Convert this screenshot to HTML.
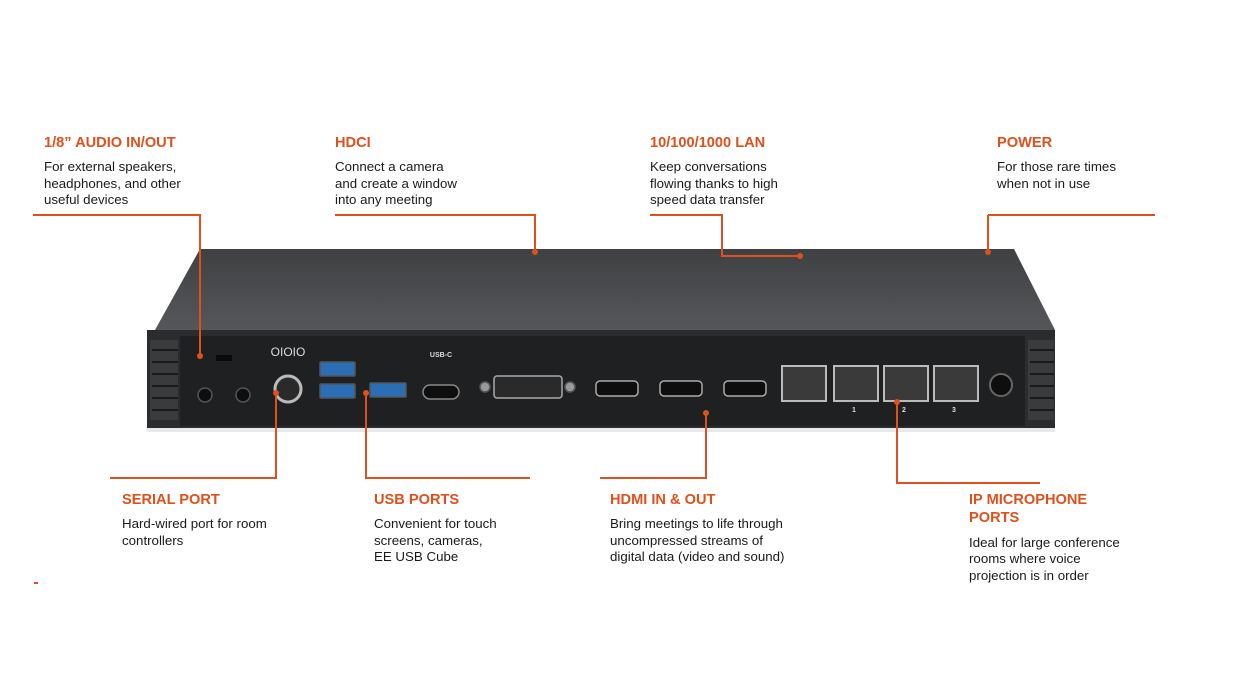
<!DOCTYPE html>
<html><head><meta charset="utf-8"><style>
html,body{margin:0;padding:0;background:#fff;}
svg{display:block;font-family:"Liberation Sans",Arial,sans-serif;}
.t{fill:#e0501c;font-weight:bold;font-size:14.6px;}
.b{fill:#1a1a1a;font-size:13.3px;}
.l{stroke:#e0501c;stroke-width:2;fill:none;}
.d{fill:#e0501c;}
</style></head><body>
<svg width="1243" height="700" viewBox="0 0 1243 700">
<defs>
<linearGradient id="top" x1="0" y1="0" x2="0" y2="1"><stop offset="0" stop-color="#3f4042"/><stop offset="1" stop-color="#55575a"/></linearGradient>
</defs>
<polygon points="200,249 1014,249 1055,330 155,330" fill="url(#top)"/>
<rect x="147" y="330" width="908" height="100" fill="#2b2c2e"/>
<rect x="180" y="336" width="845" height="90" fill="#1f2022"/>
<rect x="147" y="428" width="908" height="4" fill="#e9e9e9"/>
<g fill="#3a3b3d"><rect x="150" y="340" width="28" height="80"/><rect x="1028" y="340" width="26" height="80"/></g>
<g stroke="#1a1a1a" stroke-width="2">
<line x1="152" y1="350" x2="178" y2="350"/><line x1="152" y1="362" x2="178" y2="362"/><line x1="152" y1="374" x2="178" y2="374"/><line x1="152" y1="386" x2="178" y2="386"/><line x1="152" y1="398" x2="178" y2="398"/><line x1="152" y1="410" x2="178" y2="410"/>
<line x1="1030" y1="350" x2="1054" y2="350"/><line x1="1030" y1="362" x2="1054" y2="362"/><line x1="1030" y1="374" x2="1054" y2="374"/><line x1="1030" y1="386" x2="1054" y2="386"/><line x1="1030" y1="398" x2="1054" y2="398"/><line x1="1030" y1="410" x2="1054" y2="410"/>
</g>
<g fill="#0e0e0e" stroke="#555" stroke-width="1.5">
<circle cx="205" cy="395" r="7"/><circle cx="243" cy="395" r="7"/>
<circle cx="288" cy="389" r="13" fill="#2a2a2a" stroke="#bbb" stroke-width="3"/>
<rect x="320" y="362" width="35" height="14" rx="1" fill="#2a6fb5"/>
<rect x="320" y="384" width="35" height="14" rx="1" fill="#2a6fb5"/>
<rect x="370" y="383" width="36" height="14" rx="1" fill="#2a6fb5"/>
<rect x="423" y="385" width="36" height="14" rx="7" stroke="#888"/>
<rect x="494" y="376" width="68" height="22" rx="3" fill="#2a2a2a" stroke="#aaa"/>
<circle cx="485" cy="387" r="5" fill="#999"/><circle cx="570" cy="387" r="5" fill="#999"/>
<rect x="596" y="381" width="42" height="15" rx="4" stroke="#aaa"/>
<rect x="660" y="381" width="42" height="15" rx="4" stroke="#aaa"/>
<rect x="724" y="381" width="42" height="15" rx="4" stroke="#aaa"/>
<rect x="782" y="366" width="44" height="35" fill="#3a3a3a" stroke="#bbb" stroke-width="2"/>
<rect x="834" y="366" width="44" height="35" fill="#3a3a3a" stroke="#bbb" stroke-width="2"/>
<rect x="884" y="366" width="44" height="35" fill="#3a3a3a" stroke="#bbb" stroke-width="2"/>
<rect x="934" y="366" width="44" height="35" fill="#3a3a3a" stroke="#bbb" stroke-width="2"/>
<circle cx="1001" cy="385" r="11" stroke="#666" stroke-width="2"/>
</g>
<rect x="216" y="355" width="16" height="6" fill="#0a0a0a"/>
<g fill="#ddd" font-size="9" font-weight="bold" text-anchor="middle">
<text x="288" y="356" font-size="12" font-weight="normal">OIOIO</text>
<text x="441" y="357" font-size="7">USB-C</text>
<text x="854" y="412" font-size="7">1</text><text x="904" y="412" font-size="7">2</text><text x="954" y="412" font-size="7">3</text>
</g>
<polyline class="l" points="33,215 200,215 200,355"/>
<polyline class="l" points="335,215 535,215 535,252"/>
<polyline class="l" points="650,215 722,215 722,256 800,256"/>
<polyline class="l" points="988,215 1155,215"/><polyline class="l" points="988,215 988,252"/>
<polyline class="l" points="276,393 276,478 110,478"/>
<polyline class="l" points="366,393 366,478 530,478"/>
<polyline class="l" points="706,413 706,478 600,478"/>
<polyline class="l" points="897,402 897,483 1040,483"/>
<g class="d"><circle cx="200" cy="356" r="3"/><circle cx="535" cy="252" r="3"/><circle cx="800" cy="256" r="3"/><circle cx="988" cy="252" r="3"/><circle cx="276" cy="393" r="3"/><circle cx="366" cy="393" r="3"/><circle cx="706" cy="413" r="3"/><circle cx="897" cy="402" r="3"/></g>
<rect x="34" y="582" width="4" height="2" fill="#e0501c"/>
<text class="t" x="44" y="147">1/8” AUDIO IN/OUT</text>
<text class="b" x="44" y="171">For external speakers,</text><text class="b" x="44" y="188">headphones, and other</text><text class="b" x="44" y="204">useful devices</text>
<text class="t" x="335" y="147">HDCI</text>
<text class="b" x="335" y="171">Connect a camera</text><text class="b" x="335" y="188">and create a window</text><text class="b" x="335" y="204">into any meeting</text>
<text class="t" x="650" y="147">10/100/1000 LAN</text>
<text class="b" x="650" y="171">Keep conversations</text><text class="b" x="650" y="188">flowing thanks to high</text><text class="b" x="650" y="204">speed data transfer</text>
<text class="t" x="997" y="147">POWER</text>
<text class="b" x="997" y="171">For those rare times</text><text class="b" x="997" y="188">when not in use</text>
<text class="t" x="122" y="504">SERIAL PORT</text>
<text class="b" x="122" y="528">Hard-wired port for room</text><text class="b" x="122" y="545">controllers</text>
<text class="t" x="374" y="504">USB PORTS</text>
<text class="b" x="374" y="528">Convenient for touch</text><text class="b" x="374" y="545">screens, cameras,</text><text class="b" x="374" y="561">EE USB Cube</text>
<text class="t" x="610" y="504">HDMI IN &amp; OUT</text>
<text class="b" x="610" y="528">Bring meetings to life through</text><text class="b" x="610" y="545">uncompressed streams of</text><text class="b" x="610" y="561">digital data (video and sound)</text>
<text class="t" x="969" y="504">IP MICROPHONE</text><text class="t" x="969" y="522">PORTS</text>
<text class="b" x="969" y="547">Ideal for large conference</text><text class="b" x="969" y="563">rooms where voice</text><text class="b" x="969" y="580">projection is in order</text>
</svg>
</body></html>
